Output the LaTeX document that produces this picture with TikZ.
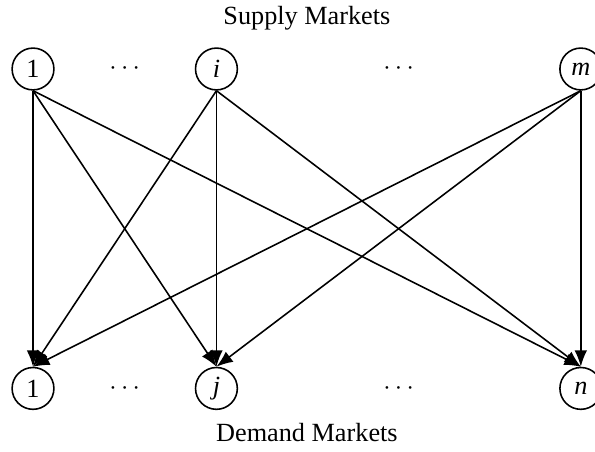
\documentclass[tikz,border=0pt]{standalone}
\usepackage{fontspec}
\setmainfont{Liberation Serif}
\usepackage{tikz}
\usetikzlibrary{arrows.meta,positioning,calc}
\tikzset{
  market/.style={draw=black,circle,line width=0.6pt,minimum size=5.6mm,inner sep=0pt,font=\normalsize},
  flow/.style={-{Latex[length=2.2mm,width=1.7mm]},black,line width=0.6pt},
  title/.style={font=\normalsize},
}
\begin{document}
\begin{tikzpicture}[node distance=1.875cm and 3.696cm]
\useasboundingbox (0,0) rectangle (7.967,6.052);
\node[market] (s1) at (0.442,5.128) {1};
\node[market,right=1.875cm of s1] (si) {\textit{i}};
\node[market,right=4.298cm of si] (sm) {\textit{m}};
\node[market,below=3.696cm of s1] (d1) {1};
\node[market,below=3.696cm of si] (dj) {\textit{j}};
\node[market,below=3.696cm of sm] (dn) {\textit{n}};
\node (sdots1) at ($(s1)!0.5!(si)$) {$\cdots$};
\node (sdots2) at ($(si)!0.5!(sm)$) {$\cdots$};
\node (ddots1) at ($(d1)!0.5!(dj)$) {$\cdots$};
\node (ddots2) at ($(dj)!0.5!(dn)$) {$\cdots$};
\node[title] (sup) at ($(s1)!0.5!(sm)+(0,0.683)$) {Supply Markets};
\node[title] (dem) at ($(d1)!0.5!(dn)+(0,-0.589)$) {Demand Markets};
\foreach \s in {s1,si,sm}
  \foreach \d in {d1,dj,dn}
    \draw[flow] (\s.south) -- (\d.north);
\end{tikzpicture}
\end{document}
